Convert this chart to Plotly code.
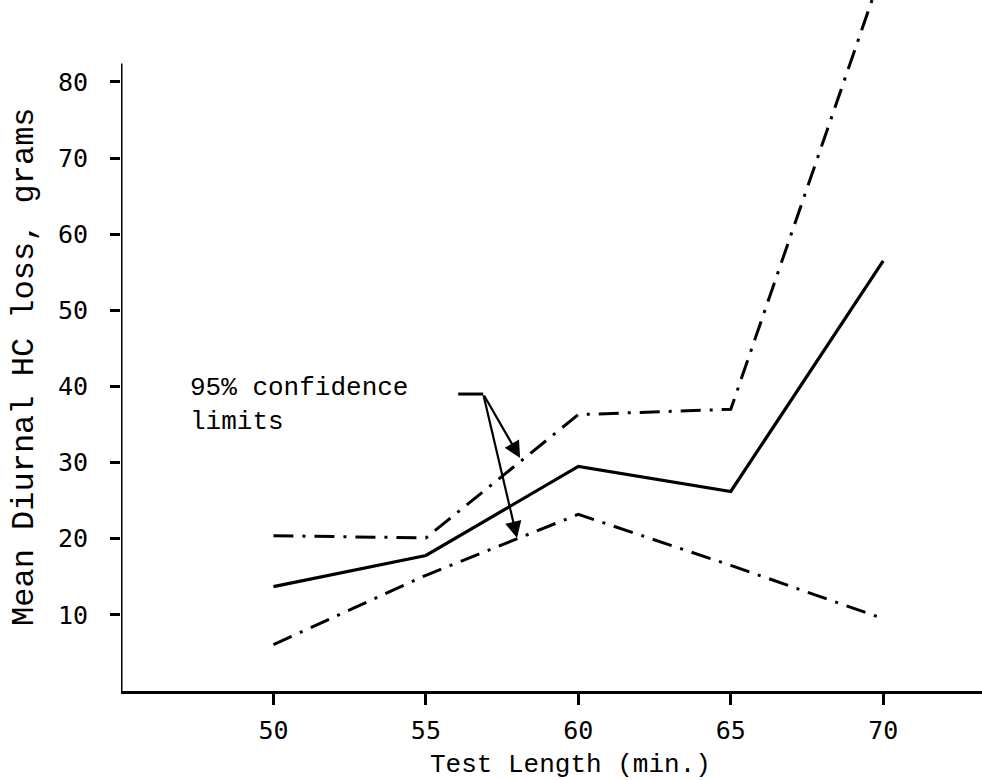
import plotly.graph_objects as go

# Data
test_length = [50, 55, 60, 65, 70]
mean_loss = [13.7, 17.8, 29.5, 26.2, 56.5]
upper_limit = [20.4, 20.1, 36.3, 37.0, 95.0]
lower_limit = [6.1, 15.2, 23.2, 16.5, 9.5]
x_ticks = [50, 55, 60, 65, 70]
y_ticks = [10, 20, 30, 40, 50, 60, 70, 80]

TYPE_FONT = "Liberation Mono, Courier New, monospace"
NUM_FONT = "DejaVu Sans Mono, Liberation Mono, monospace"
DASH = "20px,9px,3px,9px"

fig = go.Figure()
fig.add_trace(go.Scatter(x=test_length, y=upper_limit, mode="lines",
                         line=dict(color="black", width=3, dash=DASH)))
fig.add_trace(go.Scatter(x=test_length, y=lower_limit, mode="lines",
                         line=dict(color="black", width=3, dash=DASH)))
fig.add_trace(go.Scatter(x=test_length, y=mean_loss, mode="lines",
                         line=dict(color="black", width=3.2)))

fig.update_layout(
    width=982, height=780,
    margin=dict(l=121, r=0, t=0, b=89, autoexpand=False),
    paper_bgcolor="white", plot_bgcolor="white",
    showlegend=False,
    xaxis=dict(range=[45, 73.24], tickvals=x_ticks, ticks="outside",
               ticklen=11, tickwidth=3, tickcolor="black",
               showline=True, linewidth=3, linecolor="black",
               showgrid=False, zeroline=False, automargin=False,
               tickfont=dict(family=NUM_FONT, size=25, color="black"),
               ticklabelstandoff=4),
    yaxis=dict(range=[0, 90.75], tickvals=y_ticks, ticks="outside",
               ticklen=10, tickwidth=3, tickcolor="black",
               showline=False, showgrid=False, zeroline=False, automargin=False,
               tickfont=dict(family=NUM_FONT, size=25, color="black"),
               ticklabelstandoff=17),
)

# y-axis line (ends below top of the figure)
fig.add_shape(type="line", xref="x", yref="y", x0=45, x1=45, y0=0, y1=82.4,
              line=dict(color="black", width=3))

# Annotation: 95% confidence limits with arrows
fig.add_annotation(x=47.2, y=37.56, xref="x", yref="y", xanchor="left",
                   yanchor="middle", align="left", showarrow=False,
                   text="95% confidence<br>limits",
                   font=dict(family=TYPE_FONT, size=26, color="black"))
fig.add_shape(type="line", xref="x", yref="y", x0=56.06, x1=56.88, y0=39.0, y1=39.0,
              line=dict(color="black", width=3))
for tip_x, tip_y in [(58.09, 30.6), (57.99, 20.1)]:
    fig.add_annotation(x=tip_x, y=tip_y, ax=56.88, ay=39.0, xref="x", yref="y",
                       axref="x", ayref="y", text="", showarrow=True,
                       arrowhead=2, arrowsize=1.5, arrowwidth=2.2,
                       arrowcolor="black", standoff=0)

# Axis titles (paper coordinates)
fig.add_annotation(x=0.5215, y=-0.107, xref="paper", yref="paper", showarrow=False,
                   text="Test Length (min.)", xanchor="center", yanchor="middle",
                   font=dict(family=TYPE_FONT, size=26, color="black"))
fig.add_annotation(x=-0.1115, y=0.469, xref="paper", yref="paper", showarrow=False,
                   text="Mean Diurnal HC loss, grams", textangle=-90,
                   xanchor="center", yanchor="middle",
                   font=dict(family=TYPE_FONT, size=32, color="black"))

fig.write_html("out.html", config={"displayModeBar": False},
               post_script="document.body.style.margin='0';document.body.style.overflow='hidden';")
